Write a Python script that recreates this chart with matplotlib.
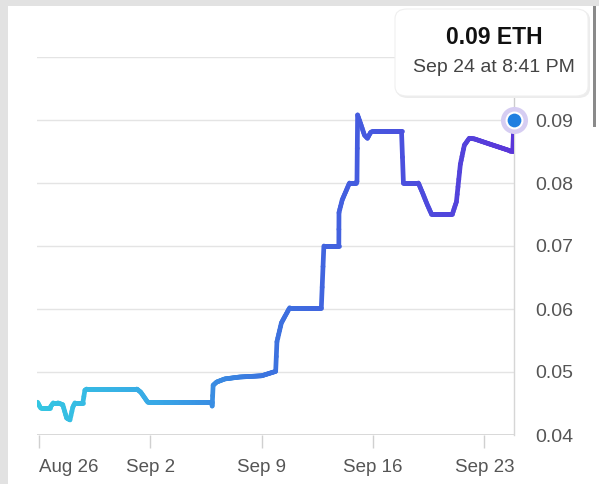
import numpy as np
import matplotlib
matplotlib.use("Agg")
import matplotlib.pyplot as plt
import matplotlib.dates as mdates
from matplotlib.collections import LineCollection
from matplotlib.colors import LinearSegmentedColormap
from matplotlib.patches import FancyBboxPatch, Rectangle
from datetime import datetime, timedelta

plt.rcParams['font.family'] = ['Liberation Sans', 'DejaVu Sans']

# price history (days after Aug 26, price in ETH)
start = datetime(2024, 8, 26)
days = [-0.08, 0.1, 0.69, 0.9, 1.19, 1.5, 1.74, 1.95, 2.13, 2.26, 2.76, 2.89, 3.0,
        6.15, 6.4, 6.84, 10.86, 10.89, 10.95, 11.17, 11.68, 12.6, 14.0, 14.88,
        14.96, 15.24, 15.76, 17.75, 17.91, 18.85, 18.86, 19.06, 19.52, 19.9, 19.99,
        20.03, 20.21, 20.46, 20.65, 20.84, 20.97, 22.79, 22.91, 23.85, 24.1, 24.42,
        24.67, 25.99, 26.24, 26.49, 26.74, 27.05, 27.37, 28.31, 29.63, 29.78, 29.86]
prices = [0.0452, 0.0443, 0.0443, 0.0451, 0.0451, 0.0448, 0.0427, 0.0424, 0.0444, 0.0451,
          0.0451, 0.0471, 0.0473, 0.0473, 0.0468, 0.0452, 0.0452, 0.0446, 0.0479, 0.0484,
          0.0489, 0.0492, 0.0494, 0.0501, 0.0548, 0.0578, 0.0602, 0.0602, 0.0700, 0.0700,
          0.0753, 0.0773, 0.0800, 0.0800, 0.0802, 0.0908, 0.0895, 0.0876, 0.0871, 0.0880,
          0.0882, 0.0882, 0.0800, 0.0800, 0.0785, 0.0765, 0.0751, 0.0751, 0.0770, 0.0830,
          0.0860, 0.0871, 0.0870, 0.0862, 0.0851, 0.0851, 0.0900]

tick_days = [0, 7, 14, 21, 28]
tick_labels = ["Aug 26", "Sep 2", "Sep 9", "Sep 16", "Sep 23"]
y_ticks = [0.04, 0.05, 0.06, 0.07, 0.08, 0.09]

tooltip_value = "0.09 ETH"
tooltip_time = "Sep 24 at 8:41 PM"

W, H = 599, 484
fig = plt.figure(figsize=(W / 100, H / 100), dpi=100)
fig.patch.set_facecolor("#e2e2e2")

# white panel
fig.patches.append(Rectangle((8 / W, 0), 1, 1 - 6 / H, transform=fig.transFigure,
                             facecolor="white", edgecolor="none", zorder=-5))

ax = fig.add_axes([37 / W, 1 - 435 / H, (514 - 37) / W, (435 - 57) / H])
ax.set_facecolor("none")
ax.set_zorder(1)

x = np.array([mdates.date2num(start + timedelta(days=d)) for d in days])
y = np.array(prices)

# denser points for a smooth colour gradient
xs, ys = [], []
for i in range(len(x) - 1):
    n = max(2, int((x[i + 1] - x[i]) * 20))
    xs.extend(np.linspace(x[i], x[i + 1], n, endpoint=False))
    ys.extend(np.linspace(y[i], y[i + 1], n, endpoint=False))
xs.append(x[-1]); ys.append(y[-1])
xs = np.array(xs); ys = np.array(ys)

pts = np.array([xs, ys]).T.reshape(-1, 1, 2)
segs = np.concatenate([pts[:-1], pts[1:]], axis=1)
cmap = LinearSegmentedColormap.from_list(
    "eth", [(0, "#35c6e2"), (0.25, "#38a8e6"), (0.48, "#3b74df"),
            (0.7, "#4658df"), (1, "#5a36d9")])
lc = LineCollection(segs, cmap=cmap, linewidths=3.4, capstyle="round", joinstyle="round", zorder=3)
lc.set_array((xs[:-1] - xs[0]) / (xs[-1] - xs[0]))
lc.set_clim(0, 1)
ax.add_collection(lc)

x0 = mdates.date2num(start)
ax.set_xlim(x0 - 0.12, x[-1])
ax.set_ylim(0.04, 0.10)

# grid
for v in y_ticks[1:] + [0.10]:
    ax.axhline(v, color="#e4e4e4", lw=1.0, zorder=1)
ax.axhline(0.04, color="#d2d2d2", lw=1.2, zorder=1)

for s in ["top", "left", "bottom"]:
    ax.spines[s].set_visible(False)
ax.spines["right"].set_color("#d6d6d6")
ax.spines["right"].set_linewidth(1.0)
ax.spines["right"].set_bounds(0.04, 0.0883)

# hover line
ax.plot([x[-1], x[-1]], [0.088, 0.1039], color="#cccccc", lw=1.0, zorder=2, clip_on=False)

ax.yaxis.tick_right()
ax.set_yticks(y_ticks)
ax.set_yticklabels([f"{v:.2f}" for v in y_ticks])
ax.tick_params(axis="y", length=0, pad=15, labelsize=14, labelcolor="#555555")

ax.set_xticks([x0 + d for d in tick_days])
ax.set_xticklabels(tick_labels)
ax.tick_params(axis="x", length=9, width=1, color="#d0d0d0", pad=8,
               labelsize=13.5, labelcolor="#555555")
ax.get_xticklabels()[0].set_horizontalalignment("left")

# end marker
ax.scatter([x[-1]], [y[-1]], s=380, color="#d6cdf2", zorder=4, clip_on=False, linewidths=0)
ax.scatter([x[-1]], [y[-1]], s=130, color="#1f7fe0", edgecolors="white",
           linewidths=1.5, zorder=5, clip_on=False)

# tooltip
shadow = FancyBboxPatch((396 / W, 1 - 98 / H), 194 / W, 88 / H,
                        boxstyle="round,pad=0,rounding_size=0.02",
                        transform=fig.transFigure, facecolor="#ececec",
                        edgecolor="none", zorder=5)
box = FancyBboxPatch((395 / W, 1 - 96 / H), 193 / W, 87 / H,
                     boxstyle="round,pad=0,rounding_size=0.02",
                     transform=fig.transFigure, facecolor="white",
                     edgecolor="#efefef", lw=0.8, zorder=6)
fig.patches.extend([shadow, box])
fig.text(494 / W, 1 - 37 / H, tooltip_value, ha="center", va="center",
         fontsize=16.5, fontweight="bold", color="#111111", zorder=7)
fig.text(494 / W, 1 - 67 / H, tooltip_time, ha="center", va="center",
         fontsize=14, color="#444444", zorder=7)

# scrollbar
fig.patches.append(Rectangle((593 / W, 1 - 127 / H), 3 / W, 121 / H,
                             transform=fig.transFigure, facecolor="#8a8a8a",
                             edgecolor="none", zorder=8))

fig.savefig("out.png", dpi=100)
